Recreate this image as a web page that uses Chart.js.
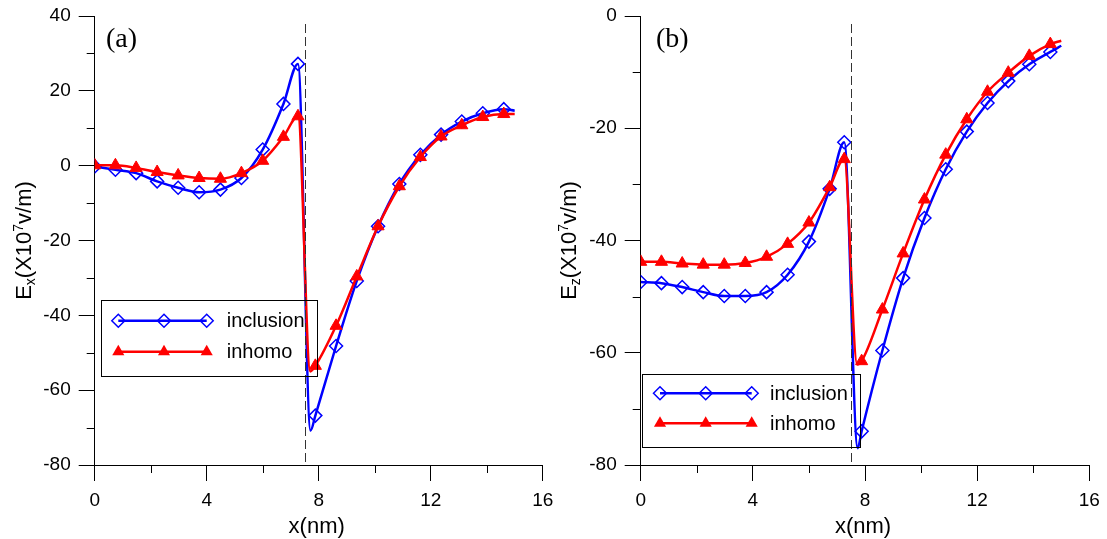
<!DOCTYPE html>
<html>
<head>
<meta charset="utf-8">
<script src="https://cdn.jsdelivr.net/npm/chart.js@4.4.1/dist/chart.umd.min.js"></script>
<style>
  html, body { margin: 0; padding: 0; background: #fff; }
  #wrap { position: relative; width: 1107px; height: 539px; }
  canvas { position: absolute; top: 0; }
</style>
</head>
<body>
<div id="wrap">
  <canvas id="chart-a" width="553" height="539" style="left:0"></canvas>
  <canvas id="chart-b" width="554" height="539" style="left:553px"></canvas>
</div>
<script>
// ===============================
//  Data
// ===============================

// x positions of the markers (nm), same for every curve
const xMarks = [0, 0.74, 1.48, 2.23, 2.98, 3.73, 4.49, 5.24, 6.0, 6.74, 7.26,
                7.88, 8.62, 9.36, 10.12, 10.88, 11.63, 12.37, 13.11, 13.86, 14.61];

// (a) Ex
const exInclusion = [-0.2, -1.1, -2.0, -4.2, -5.9, -7.1, -6.4, -3.3, 4.3, 16.5, 27.2,
                     -66.8, -48.2, -30.8, -16.2, -4.9, 2.9, 8.3, 11.8, 14.0, 15.1];
const exInhomo = [0.1, 0.1, -0.6, -1.7, -2.6, -3.3, -3.5, -2.0, 1.3, 7.7, 13.2,
                  -53.5, -42.8, -29.6, -16.2, -5.5, 2.3, 7.8, 10.8, 13.0, 13.8];
// line vertices without a marker (dip after the interface, end of curve)
const exInclusionExtraX = [7.71, 15.0];
const exInclusionExtraY = [-70.8, 14.7];
const exInhomoExtraX = [7.7, 15.0];
const exInhomoExtraY = [-55.0, 13.8];

// (b) Ez
const ezInclusion = [-47.4, -47.6, -48.3, -49.2, -49.9, -49.9, -49.2, -46.1, -40.2, -30.8, -22.5,
                     -74.0, -59.6, -46.7, -36.0, -27.3, -20.6, -15.5, -11.6, -8.6, -6.4];
const ezInhomo = [-43.8, -43.8, -44.1, -44.3, -44.3, -44.0, -42.9, -40.6, -36.8, -30.5, -25.5,
                  -61.5, -52.3, -42.3, -32.7, -24.7, -18.4, -13.5, -10.1, -7.1, -5.0];
const ezInclusionExtraX = [7.74, 15.0];
const ezInclusionExtraY = [-77.0, -5.3];
const ezInhomoExtraX = [7.72, 15.0];
const ezInhomoExtraY = [-62.1, -4.4];

const xTicksMajor = [0, 4, 8, 12, 16];
const interfaceX = 7.5;
const seriesNames = ['inclusion', 'inhomo'];

// ===============================
//  Helpers
// ===============================
const SANS = '"Liberation Sans", Arial, sans-serif';
const BLUE = '#0000ff';
const RED = '#ff0000';

function markerPoints(ys) {
  return xMarks.map((x, i) => ({ x, y: ys[i] }));
}

function linePoints(ys, ex, ey) {
  return markerPoints(ys)
    .concat(ex.map((x, i) => ({ x, y: ey[i] })))
    .sort((p, q) => p.x - q.x);
}

function drawDiamond(ctx, x, y, r) {
  ctx.beginPath();
  ctx.moveTo(x - r, y); ctx.lineTo(x, y - r); ctx.lineTo(x + r, y); ctx.lineTo(x, y + r);
  ctx.closePath();
  ctx.stroke();
}

function drawTriangle(ctx, x, y, r) {
  ctx.beginPath();
  for (let k = 0; k < 3; k++) {
    const a = k * 2 * Math.PI / 3;
    const px = x + Math.sin(a) * r, py = y - Math.cos(a) * r;
    if (k === 0) ctx.moveTo(px, py); else ctx.lineTo(px, py);
  }
  ctx.closePath();
  ctx.fill();
}

// Custom decorations: minor ticks, interface line, panel label, legend, titles
function decorPlugin(cfg) {
  return {
    id: 'decor',
    afterDraw(chart) {
      const { ctx, chartArea: a, scales: { x, y } } = chart;
      ctx.save();

      // minor ticks
      ctx.strokeStyle = '#000';
      ctx.lineWidth = 1;
      ctx.beginPath();
      for (let v = y.min + 10; v < y.max; v += 20) {
        const py = Math.round(y.getPixelForValue(v)) + 0.5;
        ctx.moveTo(a.left, py); ctx.lineTo(a.left - 8, py);
      }
      for (let v = 2; v < 16; v += 4) {
        const px = Math.round(x.getPixelForValue(v)) + 0.5;
        ctx.moveTo(px, a.bottom); ctx.lineTo(px, a.bottom + 8);
      }
      ctx.stroke();

      // dashed interface line
      const ix = Math.round(x.getPixelForValue(interfaceX)) + 0.5;
      ctx.strokeStyle = '#333';
      ctx.setLineDash([9, 4]);
      ctx.beginPath();
      ctx.moveTo(ix, 24); ctx.lineTo(ix, a.bottom);
      ctx.stroke();
      ctx.setLineDash([]);

      // panel label
      ctx.fillStyle = '#000';
      ctx.font = '28px "Liberation Serif", "Times New Roman", serif';
      ctx.textBaseline = 'alphabetic';
      ctx.textAlign = 'left';
      ctx.fillText(cfg.label, cfg.labelX, 47);

      // legend
      const L = cfg.legend;
      ctx.strokeStyle = '#000';
      ctx.lineWidth = 1;
      ctx.strokeRect(L.x0 + 0.5, L.y0 + 0.5, L.x1 - L.x0, L.y1 - L.y0);
      ctx.lineWidth = 2.5;
      ctx.strokeStyle = BLUE;
      ctx.beginPath(); ctx.moveTo(L.mx[0], L.rows[0]); ctx.lineTo(L.mx[2], L.rows[0]); ctx.stroke();
      ctx.lineWidth = 1.5;
      L.mx.forEach(mx => drawDiamond(ctx, mx, L.rows[0], 6.5));
      ctx.strokeStyle = RED;
      ctx.lineWidth = 2.5;
      ctx.beginPath(); ctx.moveTo(L.mx[0], L.rows[1]); ctx.lineTo(L.mx[2], L.rows[1]); ctx.stroke();
      ctx.fillStyle = RED;
      L.mx.forEach(mx => drawTriangle(ctx, mx, L.rows[1], 7));
      ctx.fillStyle = '#000';
      ctx.font = '20px ' + SANS;
      ctx.textBaseline = 'middle';
      ctx.fillText(seriesNames[0], L.tx, L.rows[0] + 1);
      ctx.fillText(seriesNames[1], L.tx, L.rows[1] + 1);

      // x title
      ctx.font = '22px ' + SANS;
      ctx.textAlign = 'center';
      ctx.textBaseline = 'alphabetic';
      ctx.fillText('x(nm)', (a.left + a.right) / 2 - 2, 533);

      // y title, rotated, with sub/superscripts
      ctx.translate(cfg.yTitleX, (a.top + a.bottom) / 2);
      ctx.rotate(-Math.PI / 2);
      const big = '22px ' + SANS, small = '14px ' + SANS;
      const parts = [['E', big, 0], [cfg.sub, small, 4], ['(X10', big, 0], ['7', small, -8], ['v/m)', big, 0]];
      let w = 0;
      parts.forEach(p => { ctx.font = p[1]; w += ctx.measureText(p[0]).width; });
      let px = -w / 2;
      ctx.textAlign = 'left';
      parts.forEach(p => {
        ctx.font = p[1];
        ctx.fillText(p[0], px, p[2]);
        px += ctx.measureText(p[0]).width;
      });
      ctx.restore();
    },
  };
}

function makeChart(id, cfg) {
  const ctx = document.getElementById(id).getContext('2d');
  return new Chart(ctx, {
    type: 'scatter',
    data: {
      datasets: [
        {
          data: markerPoints(cfg.inhomo),
          showLine: false,
          pointStyle: 'triangle',
          pointRadius: 7,
          backgroundColor: RED,
          borderColor: RED,
          borderWidth: 1,
          order: 0,
        },
        {
          data: linePoints(cfg.inhomo, cfg.inhomoExX, cfg.inhomoExY),
          showLine: true,
          pointRadius: 0,
          borderColor: RED,
          borderWidth: 2.5,
          cubicInterpolationMode: 'monotone',
          order: 1,
        },
        {
          data: markerPoints(cfg.inclusion),
          showLine: false,
          pointStyle: 'rectRot',
          pointRadius: 6.5,
          backgroundColor: 'rgba(0,0,0,0)',
          borderColor: BLUE,
          borderWidth: 1.5,
          order: 2,
        },
        {
          data: linePoints(cfg.inclusion, cfg.inclusionExX, cfg.inclusionExY),
          showLine: true,
          pointRadius: 0,
          borderColor: BLUE,
          borderWidth: 2.5,
          cubicInterpolationMode: 'monotone',
          order: 3,
        },
      ],
    },
    options: {
      responsive: false,
      animation: false,
      events: [],
      devicePixelRatio: 1,
      layout: { padding: { left: 0, top: 16, right: cfg.padRight, bottom: 0 } },
      plugins: { legend: { display: false }, tooltip: { enabled: false } },
      scales: {
        x: {
          type: 'linear',
          min: 0,
          max: 16,
          afterBuildTicks: (s) => { s.ticks = xTicksMajor.map(v => ({ value: v })); },
          afterFit: (s) => { s.height = 74; s.paddingLeft = 0; s.paddingRight = 0; },
          border: { display: true, color: '#000', width: 1 },
          grid: { drawOnChartArea: false, drawTicks: true, tickLength: 16, tickColor: '#000' },
          ticks: { color: '#000', font: { family: SANS, size: 19 }, padding: 8, maxRotation: 0,
                   callback: (v) => String(v) },
        },
        y: {
          type: 'linear',
          min: cfg.yMin,
          max: cfg.yMax,
          afterBuildTicks: (s) => {
            const t = [];
            for (let v = cfg.yMin; v <= cfg.yMax; v += 20) t.push({ value: v });
            s.ticks = t;
          },
          afterFit: (s) => { s.width = cfg.axisX; s.paddingTop = 0; s.paddingBottom = 0; },
          border: { display: true, color: '#000', width: 1 },
          grid: { drawOnChartArea: false, drawTicks: true, tickLength: 16, tickColor: '#000' },
          ticks: { color: '#000', font: { family: SANS, size: 19 }, padding: 8,
                   callback: (v) => String(v) },
        },
      },
    },
    plugins: [decorPlugin(cfg)],
  });
}

makeChart('chart-a', {
  inclusion: exInclusion, inhomo: exInhomo,
  inclusionExX: exInclusionExtraX, inclusionExY: exInclusionExtraY,
  inhomoExX: exInhomoExtraX, inhomoExY: exInhomoExtraY,
  yMin: -80, yMax: 40, axisX: 94.7, padRight: 10.3,
  label: '(a)', labelX: 106, sub: 'x', yTitleX: 31,
  legend: { x0: 101, y0: 300, x1: 317, y1: 376, rows: [320.7, 351.7], mx: [118.3, 164, 206.7], tx: 226.7 },
});

makeChart('chart-b', {
  inclusion: ezInclusion, inhomo: ezInhomo,
  inclusionExX: ezInclusionExtraX, inclusionExY: ezInclusionExtraY,
  inhomoExX: ezInhomoExtraX, inhomoExY: ezInhomoExtraY,
  yMin: -80, yMax: 0, axisX: 87.7, padRight: 17.7,
  label: '(b)', labelX: 103, sub: 'z', yTitleX: 22.7,
  legend: { x0: 89, y0: 374, x1: 307, y1: 447, rows: [393.3, 423.3], mx: [107, 152.7, 198.7], tx: 217 },
});
</script>
</body>
</html>
